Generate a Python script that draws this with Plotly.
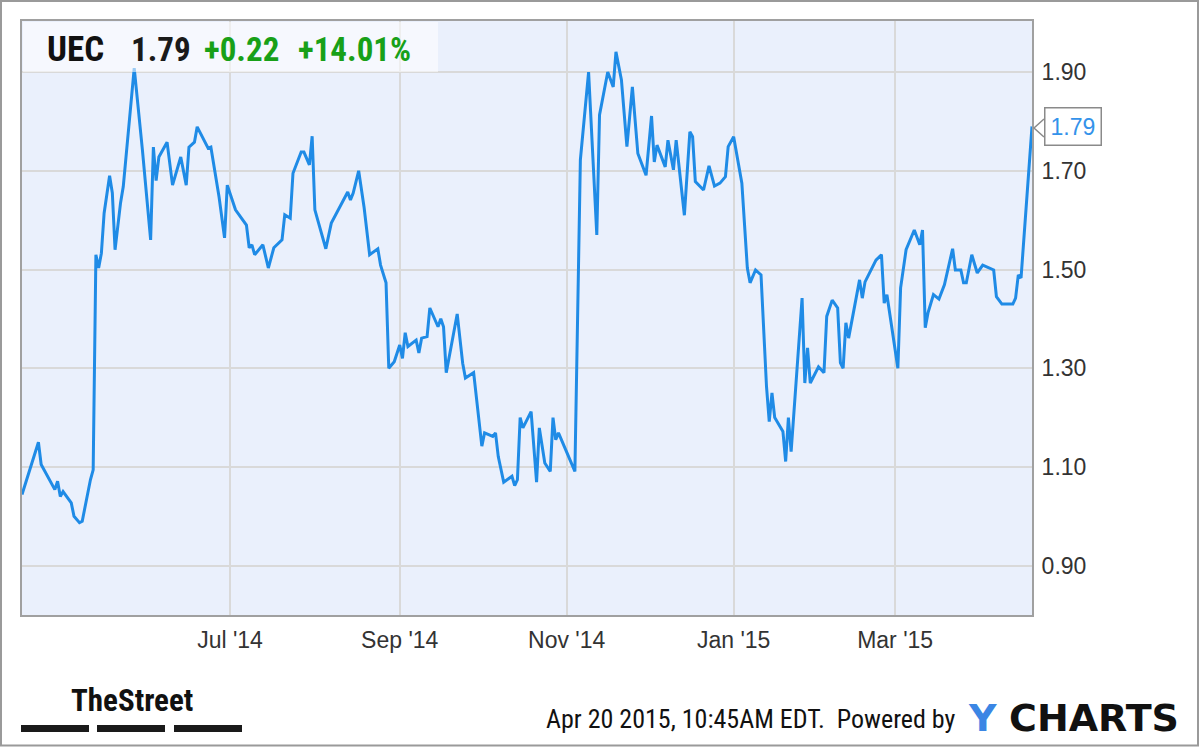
import plotly.graph_objects as go

# ---------------- data ----------------
dates = [
    "2014-04-16", "2014-04-22", "2014-04-23", "2014-04-28", "2014-04-29", "2014-04-30",
    "2014-05-01", "2014-05-04", "2014-05-05", "2014-05-07", "2014-05-08", "2014-05-11",
    "2014-05-12", "2014-05-13", "2014-05-14", "2014-05-15", "2014-05-16", "2014-05-18",
    "2014-05-19", "2014-05-20", "2014-05-22", "2014-05-23", "2014-05-27", "2014-05-30",
    "2014-06-02", "2014-06-03", "2014-06-04", "2014-06-05", "2014-06-08", "2014-06-10",
    "2014-06-13", "2014-06-15", "2014-06-16", "2014-06-18", "2014-06-19", "2014-06-21",
    "2014-06-23", "2014-06-24", "2014-06-27", "2014-06-29", "2014-06-30", "2014-07-03",
    "2014-07-07", "2014-07-08", "2014-07-09", "2014-07-10", "2014-07-13", "2014-07-15",
    "2014-07-17", "2014-07-20", "2014-07-21", "2014-07-23", "2014-07-24", "2014-07-27",
    "2014-07-28", "2014-07-30", "2014-07-31", "2014-08-01", "2014-08-03", "2014-08-05",
    "2014-08-07", "2014-08-11", "2014-08-13", "2014-08-14", "2014-08-15", "2014-08-17",
    "2014-08-19", "2014-08-21", "2014-08-24", "2014-08-25", "2014-08-27", "2014-08-28",
    "2014-08-30", "2014-09-01", "2014-09-02", "2014-09-03", "2014-09-04", "2014-09-07",
    "2014-09-08", "2014-09-09", "2014-09-11", "2014-09-12", "2014-09-14", "2014-09-15",
    "2014-09-16", "2014-09-17", "2014-09-18", "2014-09-21", "2014-09-22", "2014-09-24",
    "2014-09-25", "2014-09-28", "2014-10-01", "2014-10-02", "2014-10-05", "2014-10-06",
    "2014-10-07", "2014-10-09", "2014-10-12", "2014-10-13", "2014-10-14", "2014-10-15",
    "2014-10-16", "2014-10-19", "2014-10-21", "2014-10-22", "2014-10-24", "2014-10-26",
    "2014-10-27", "2014-10-28", "2014-10-29", "2014-11-04", "2014-11-05", "2014-11-06",
    "2014-11-09", "2014-11-12", "2014-11-13", "2014-11-16", "2014-11-18", "2014-11-19",
    "2014-11-21", "2014-11-23", "2014-11-25", "2014-11-27", "2014-11-30", "2014-12-02",
    "2014-12-03", "2014-12-04", "2014-12-07", "2014-12-08", "2014-12-10", "2014-12-11",
    "2014-12-14", "2014-12-16", "2014-12-17", "2014-12-18", "2014-12-21", "2014-12-23",
    "2014-12-25", "2014-12-27", "2014-12-29", "2014-12-30", "2015-01-01", "2015-01-04",
    "2015-01-06", "2015-01-07", "2015-01-09", "2015-01-11", "2015-01-13", "2015-01-14",
    "2015-01-15", "2015-01-16", "2015-01-19", "2015-01-20", "2015-01-21", "2015-01-22",
    "2015-01-26", "2015-01-27", "2015-01-28", "2015-01-29", "2015-02-01", "2015-02-03",
    "2015-02-04", "2015-02-06", "2015-02-08", "2015-02-09", "2015-02-10", "2015-02-11",
    "2015-02-12", "2015-02-16", "2015-02-17", "2015-02-18", "2015-02-22", "2015-02-24",
    "2015-02-25", "2015-02-26", "2015-03-02", "2015-03-03", "2015-03-05", "2015-03-08",
    "2015-03-10", "2015-03-11", "2015-03-12", "2015-03-13", "2015-03-15", "2015-03-17",
    "2015-03-19", "2015-03-22", "2015-03-23", "2015-03-25", "2015-03-26", "2015-03-27",
    "2015-03-29", "2015-03-31", "2015-04-02", "2015-04-06", "2015-04-07", "2015-04-09",
    "2015-04-13", "2015-04-14", "2015-04-15", "2015-04-16", "2015-04-20",
]
prices = [
    1.044, 1.150, 1.105, 1.054, 1.071, 1.040,
    1.050, 1.027, 1.000, 0.987, 0.990, 1.074,
    1.094, 1.530, 1.503, 1.533, 1.614, 1.690,
    1.655, 1.540, 1.635, 1.668, 1.908, 1.742,
    1.560, 1.748, 1.680, 1.728, 1.758, 1.671,
    1.728, 1.671, 1.748, 1.758, 1.789, 1.769,
    1.746, 1.748, 1.647, 1.564, 1.671, 1.621,
    1.590, 1.544, 1.550, 1.530, 1.550, 1.503,
    1.544, 1.560, 1.611, 1.604, 1.695, 1.738,
    1.738, 1.712, 1.770, 1.621, 1.580, 1.542,
    1.594, 1.637, 1.657, 1.641, 1.655, 1.700,
    1.625, 1.530, 1.542, 1.509, 1.473, 1.300,
    1.313, 1.347, 1.320, 1.372, 1.344, 1.357,
    1.331, 1.361, 1.364, 1.422, 1.398, 1.384,
    1.400, 1.384, 1.291, 1.384, 1.410, 1.310,
    1.280, 1.291, 1.142, 1.169, 1.162, 1.169,
    1.121, 1.069, 1.081, 1.062, 1.074, 1.200,
    1.179, 1.212, 1.069, 1.179, 1.108, 1.091,
    1.200, 1.155, 1.169, 1.091, 1.438, 1.722,
    1.900, 1.570, 1.813, 1.900, 1.870, 1.941,
    1.884, 1.749, 1.870, 1.735, 1.691, 1.811,
    1.718, 1.752, 1.708, 1.762, 1.702, 1.762,
    1.610, 1.779, 1.769, 1.678, 1.661, 1.710,
    1.669, 1.675, 1.688, 1.749, 1.769, 1.675,
    1.503, 1.473, 1.499, 1.489, 1.263, 1.192,
    1.250, 1.200, 1.172, 1.111, 1.200, 1.131,
    1.442, 1.270, 1.341, 1.270, 1.303, 1.291,
    1.405, 1.438, 1.422, 1.311, 1.300, 1.392,
    1.361, 1.479, 1.442, 1.475, 1.519, 1.530,
    1.432, 1.449, 1.300, 1.463, 1.540, 1.580,
    1.550, 1.580, 1.382, 1.412, 1.449, 1.440,
    1.469, 1.542, 1.499, 1.499, 1.473, 1.473,
    1.530, 1.493, 1.509, 1.499, 1.445, 1.430,
    1.430, 1.442, 1.489, 1.483, 1.790,
]
x_tick_dates = ["2014-07-01", "2014-09-01", "2014-11-01", "2015-01-01", "2015-03-01"]
x_tick_labels = ["Jul '14", "Sep '14", "Nov '14", "Jan '15", "Mar '15"]
y_ticks = [0.90, 1.10, 1.30, 1.50, 1.70, 1.90]
y_tick_labels = ["0.90", "1.10", "1.30", "1.50", "1.70", "1.90"]

ticker = "UEC"
last_price = "1.79"
change = "+0.22"
change_pct = "+14.01%"
last_value = prices[-1]
timestamp = "Apr 20 2015, 10:45AM EDT.  Powered by"

# ---------------- layout helpers ----------------
W, H = 1200, 747
L, R, T, B = 22, 1032, 21, 615


def px(x):
    return (x - L) / (R - L)


def py(y):
    return (B - y) / (B - T)


LINE_BLUE = "#1f8be6"
COND = "Roboto Condensed, DejaVu Sans Condensed, Liberation Sans, Arial, sans-serif"
SANS = "Liberation Sans, Arial, Helvetica, sans-serif"

fig = go.Figure()
fig.add_trace(go.Scatter(
    x=dates, y=prices, mode="lines",
    line=dict(color=LINE_BLUE, width=3),
    hoverinfo="skip", showlegend=False,
))

fig.update_layout(
    width=W, height=H,
    margin=dict(l=L, r=W - R, t=T, b=H - B, pad=0),
    paper_bgcolor="white",
    plot_bgcolor="#eaf0fc",
    showlegend=False,
    xaxis=dict(
        type="date",
        range=["2014-04-16", "2015-04-20"],
        tickvals=x_tick_dates, ticktext=x_tick_labels,
        showgrid=True, gridcolor="#d9d9d9", gridwidth=2,
        showline=True, linecolor="#a0a0a0", linewidth=2, mirror=True,
        ticks="", ticklabelstandoff=3,
        tickfont=dict(family=SANS, size=23, color="#333333"),
        zeroline=False, fixedrange=True,
    ),
    yaxis=dict(
        side="right",
        range=[0.80, 2.0035],
        tickvals=y_ticks, ticktext=y_tick_labels,
        showgrid=True, gridcolor="#d9d9d9", gridwidth=2,
        showline=True, linecolor="#a0a0a0", linewidth=2, mirror=True,
        ticks="", ticklabelstandoff=3,
        tickfont=dict(family=SANS, size=23, color="#333333"),
        zeroline=False, fixedrange=True,
    ),
)

shapes = []
shapes.append(dict(type="rect", xref="paper", yref="paper",
                   x0=px(L + 1), x1=px(438), y0=py(72), y1=py(T + 1),
                   fillcolor="rgba(255,255,255,0.55)", line=dict(width=0), layer="above"))
shapes.append(dict(type="rect", xref="paper", yref="paper",
                   x0=px(1), x1=px(1198), y0=py(745.5), y1=py(1),
                   line=dict(color="#9a9a9a", width=2), fillcolor="rgba(0,0,0,0)", layer="above"))
shapes.append(dict(type="path", xref="paper", yref="paper",
                   path=f"M {px(1044)} {py(119)} L {px(1034)} {py(128)} L {px(1044)} {py(137)}",
                   fillcolor="white", line=dict(color="#8a8a8a", width=1.5), layer="above"))
for x0, x1 in [(21, 89), (97, 165), (174, 242)]:
    shapes.append(dict(type="rect", xref="paper", yref="paper",
                       x0=px(x0), x1=px(x1), y0=py(732), y1=py(725),
                       fillcolor="#1a1a1a", line=dict(width=0), layer="above"))
fig.update_layout(shapes=shapes)

ann = []
header_items = [
    (ticker, 45, "#111111", 35),
    (last_price, 129, "#1a1a1a", 33),
    (change, 202, "#18a018", 33),
    (change_pct, 296, "#18a018", 33),
]
for txt, x0, col, sz in header_items:
    ann.append(dict(text=f"<b>{txt}</b>",
                    xref="paper", yref="paper", x=px(x0), y=py(49),
                    xanchor="left", yanchor="middle", showarrow=False,
                    font=dict(family=COND, size=sz, color=col)))
ann.append(dict(text=f"{last_value:.2f}", xref="paper", yref="y",
                x=px(1043.5), y=last_value, xanchor="left", yanchor="middle",
                showarrow=False, font=dict(family=SANS, size=23, color="#3392ea"),
                bgcolor="white", bordercolor="#8a8a8a", borderwidth=1.5, borderpad=5))
ann.append(dict(text=timestamp, xref="paper", yref="paper",
                x=px(958), y=py(719), xanchor="right", yanchor="middle",
                showarrow=False, font=dict(family=COND, size=26, color="#111111")))
ann.append(dict(text="<b>Y</b>", xref="paper", yref="paper",
                x=px(966), y=py(718), xanchor="left", yanchor="middle",
                showarrow=False, font=dict(family="DejaVu Sans, sans-serif", size=38, color="#3b86e4")))
ann.append(dict(text="<b>CHARTS</b>", xref="paper", yref="paper",
                x=px(1181), y=py(718), xanchor="right", yanchor="middle",
                showarrow=False, font=dict(family="DejaVu Sans, sans-serif", size=38, color="#111111")))
ann.append(dict(text="<b>TheStreet</b>", xref="paper", yref="paper",
                x=px(132), y=py(700), xanchor="center", yanchor="middle",
                showarrow=False, font=dict(family=COND, size=31, color="#111111")))
fig.update_layout(annotations=ann)

fig.write_html("out.html", config={"displayModeBar": False},
               post_script="document.body.style.margin='0';document.body.style.padding='0';")
